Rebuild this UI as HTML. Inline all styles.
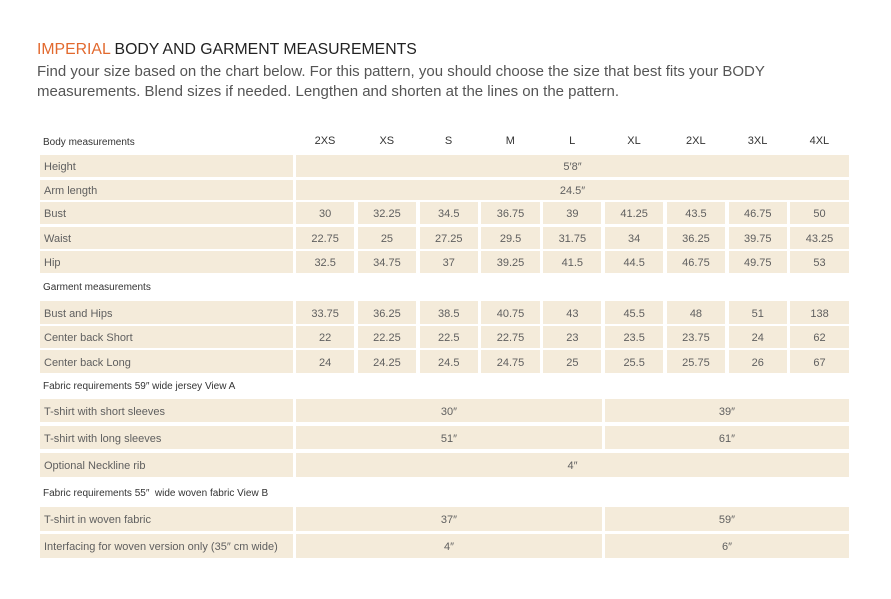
<!DOCTYPE html>
<html><head><meta charset="utf-8"><style>
body{margin:0;background:#fff;width:891px;height:599px;position:relative;overflow:hidden;font-family:"Liberation Sans",sans-serif;color:#444}
.t{position:absolute;white-space:nowrap}
.c{position:absolute;background:#f4ebda;font-size:11px;color:#5f5f5f;display:flex;align-items:center;justify-content:center;padding-top:2px;box-sizing:border-box}
.l{justify-content:flex-start;padding-left:4px}
.h{position:absolute;font-size:10px;color:#333}
</style></head><body>
<div class="t" style="left:37px;top:41px;font-size:15.8px;color:#222"><span style="color:#e2692e">IMPERIAL</span> BODY AND GARMENT MEASUREMENTS</div>
<div class="t" style="left:37px;top:62px;font-size:15px;line-height:20px;color:#555">Find your size based on the chart below. For this pattern, you should choose the size that best fits your BODY<br>measurements. Blend sizes if needed. Lengthen and shorten at the lines on the pattern.</div>
<div id="g"></div>
<script>
var g=document.getElementById('g'),h='';
function x(i){return 296+i*61.8}
function cell(l,t,w,hh,txt,cls){h+='<div class="c '+(cls||'')+'" style="left:'+l+'px;top:'+t+'px;width:'+w+'px;height:'+hh+'px">'+txt+'</div>'}
function head(t,txt){h+='<div class="h" style="left:43px;top:'+(t-4)+'px">'+txt+'</div>'}
head(141,'Body measurements');
['2XS','XS','S','M','L','XL','2XL','3XL','4XL'].forEach(function(s,i){h+='<div class="h" style="left:'+x(i)+'px;width:58px;text-align:center;top:135px;font-size:11px">'+s+'</div>'});
function row(t,b,label,vals){cell(40,t,253,b-t,label,'l');
 if(typeof vals=='string'){cell(296,t,553,b-t,vals)}
 else if(vals.length==2){cell(296,t,306,b-t,vals[0]);cell(605,t,244,b-t,vals[1])}
 else vals.forEach(function(v,i){cell(x(i),t,58.3,b-t,v)})}
row(155,177,'Height','5′8″');
row(180,200,'Arm length','24.5″');
row(202,224,'Bust',['30','32.25','34.5','36.75','39','41.25','43.5','46.75','50']);
row(227,249,'Waist',['22.75','25','27.25','29.5','31.75','34','36.25','39.75','43.25']);
row(251,273,'Hip',['32.5','34.75','37','39.25','41.5','44.5','46.75','49.75','53']);
head(286,'Garment measurements');
row(301,324,'Bust and Hips',['33.75','36.25','38.5','40.75','43','45.5','48','51','138']);
row(326,348,'Center back Short',['22','22.25','22.5','22.75','23','23.5','23.75','24','62']);
row(350,373,'Center back Long',['24','24.25','24.5','24.75','25','25.5','25.75','26','67']);
head(385,'Fabric requirements 59″ wide jersey View A');
row(399,422,'T-shirt with short sleeves',['30″','39″']);
row(426,449,'T-shirt with long sleeves',['51″','61″']);
row(453,477,'Optional Neckline rib','4″');
head(492,'Fabric requirements 55″&nbsp; wide woven fabric View B');
row(507,531,'T-shirt in woven fabric',['37″','59″']);
row(534,558,'Interfacing for woven version only (35″ cm wide)',['4″','6″']);
g.innerHTML=h;
</script>
</body></html>
